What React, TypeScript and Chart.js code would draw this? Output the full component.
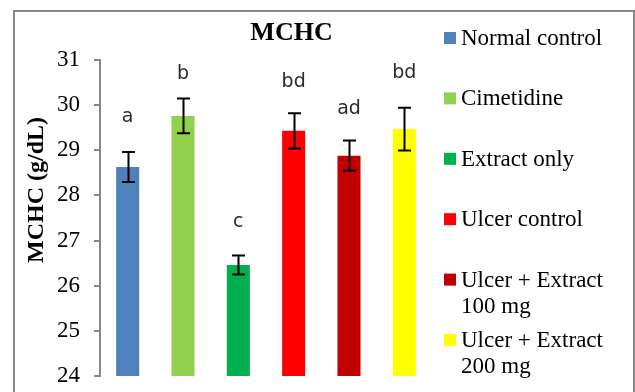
import React, { useEffect, useRef } from "react";
import { Chart, registerables } from "chart.js";

Chart.register(...registerables);

const chartTitle = "MCHC";
const yAxisTitle = "MCHC (g/dL)";
const categories = [
  "Normal control",
  "Cimetidine",
  "Extract only",
  "Ulcer control",
  "Ulcer + Extract 100 mg",
  "Ulcer + Extract 200 mg",
];
const legendLines = [
  ["Normal control"],
  ["Cimetidine"],
  ["Extract only"],
  ["Ulcer control"],
  ["Ulcer + Extract", "100 mg"],
  ["Ulcer + Extract", "200 mg"],
];
const meanValues = [28.63, 29.76, 26.46, 29.43, 28.88, 29.47];
const errorValues = [0.33, 0.385, 0.21, 0.39, 0.335, 0.475];
const letters = ["a", "b", "c", "bd", "ad", "bd"];
const letterLevels = [29.63, 30.58, 27.3, 30.41, 29.81, 30.61];
const barColors = ["#4F81BD", "#92D050", "#00B050", "#FF0000", "#C00000", "#FFFF00"];
const yMin = 24;
const yMax = 31;
const yStep = 1;

const SERIF = "'Liberation Serif', 'Times New Roman', serif";
const AXIS_GRAY = "#868686";

const overlayPlugin = {
  id: "overlay",
  afterDatasetsDraw(chart: any) {
    const { ctx } = chart;
    const y = chart.scales.y;
    const meta = chart.getDatasetMeta(0);
    ctx.save();
    // error bars
    ctx.strokeStyle = "#000";
    ctx.lineWidth = 2;
    meta.data.forEach((bar: any, i: number) => {
      const x = Math.round(bar.x) + 0.5;
      const top = y.getPixelForValue(meanValues[i] + errorValues[i]);
      const bot = y.getPixelForValue(meanValues[i] - errorValues[i]);
      ctx.beginPath();
      ctx.moveTo(x, top);
      ctx.lineTo(x, bot);
      ctx.moveTo(x - 6.5, top);
      ctx.lineTo(x + 6.5, top);
      ctx.moveTo(x - 6.5, bot);
      ctx.lineTo(x + 6.5, bot);
      ctx.stroke();
    });
    // letters
    ctx.fillStyle = "#2a2a2a";
    ctx.font = "19px 'DejaVu Sans', sans-serif";
    ctx.textAlign = "center";
    ctx.textBaseline = "alphabetic";
    meta.data.forEach((bar: any, i: number) => {
      ctx.fillText(letters[i], bar.x, y.getPixelForValue(letterLevels[i]));
    });
    ctx.restore();
  },
  afterDraw(chart: any) {
    const { ctx } = chart;
    ctx.save();
    // outer border
    ctx.strokeStyle = "#878787";
    ctx.lineWidth = 2;
    ctx.strokeRect(14, 11, 620, 420);
    // title
    ctx.fillStyle = "#000";
    ctx.font = `bold 26px ${SERIF}`;
    ctx.textAlign = "center";
    ctx.textBaseline = "alphabetic";
    ctx.fillText(chartTitle, 291.5, 40);
    // y axis title
    ctx.save();
    ctx.translate(43, 190);
    ctx.rotate(-Math.PI / 2);
    ctx.font = `bold 24px ${SERIF}`;
    ctx.fillText(yAxisTitle, 0, 0);
    ctx.restore();
    // legend
    ctx.font = `23px ${SERIF}`;
    ctx.textAlign = "left";
    let base = 45;
    legendLines.forEach((lines, i) => {
      ctx.fillStyle = barColors[i];
      ctx.fillRect(444, base - 13, 12, 12);
      ctx.fillStyle = "#000";
      lines.forEach((t, k) => ctx.fillText(t, 461, base + k * 26));
      base += 60.4;
    });
    ctx.restore();
  },
};

export default function App() {
  const ref = useRef<HTMLCanvasElement>(null);
  useEffect(() => {
    document.body.style.margin = "0";
    const canvas = ref.current!;
    const chart = new Chart(canvas, {
      type: "bar",
      data: {
        labels: categories,
        datasets: [
          {
            data: meanValues,
            backgroundColor: barColors,
            borderWidth: 0,
            barPercentage: 1,
            categoryPercentage: 23 / 55.2,
          },
        ],
      },
      options: {
        animation: false,
        responsive: false,
        devicePixelRatio: 1,
        layout: { padding: { left: 0, top: 60, right: 203, bottom: 16 } },
        plugins: {
          legend: { display: false },
          title: { display: false },
          tooltip: { enabled: false },
        },
        scales: {
          x: { display: false },
          y: {
            min: yMin,
            max: yMax,
            afterFit: (scale: any) => {
              scale.width = 100;
              scale.paddingTop = 0;
              scale.paddingBottom = 0;
            },
            ticks: {
              stepSize: yStep,
              color: "#000",
              padding: 14,
              font: { family: SERIF, size: 23 },
            },
            grid: {
              drawOnChartArea: false,
              drawTicks: true,
              tickLength: 6,
              color: AXIS_GRAY,
              lineWidth: 2,
            },
            border: { display: true, color: AXIS_GRAY, width: 2 },
          },
        },
      },
      plugins: [overlayPlugin],
    });
    return () => chart.destroy();
  }, []);
  return <canvas ref={ref} width={635} height={392} style={{ display: "block" }} />;
}
